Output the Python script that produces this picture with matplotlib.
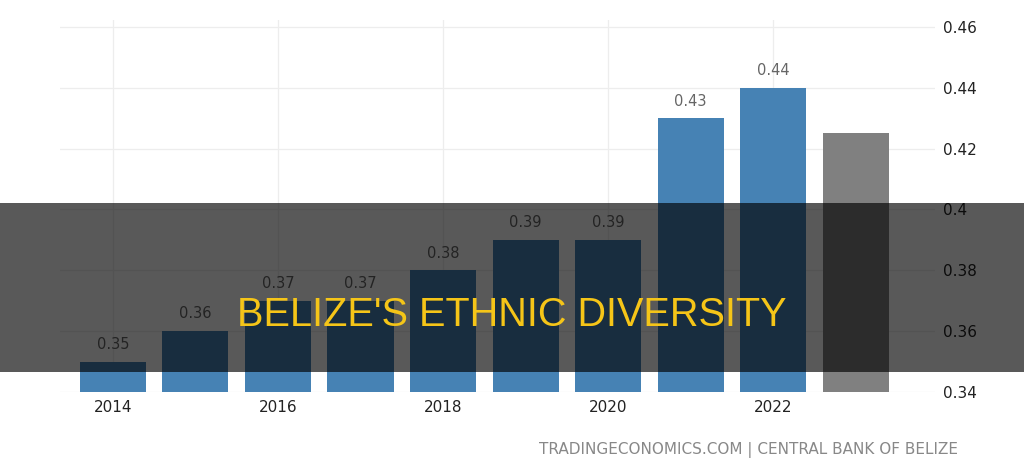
import matplotlib.pyplot as plt
from matplotlib.patches import Rectangle
from matplotlib.ticker import FuncFormatter

years = [2014, 2015, 2016, 2017, 2018, 2019, 2020, 2021, 2022]
values = [0.35, 0.36, 0.37, 0.37, 0.38, 0.39, 0.39, 0.43, 0.44]
forecast_year = [2023]
forecast_value = [0.425]
year_ticks = [2014, 2016, 2018, 2020, 2022]
y_ticks = [0.34, 0.36, 0.38, 0.40, 0.42, 0.44, 0.46]

fig = plt.figure(figsize=(10.24, 4.76), dpi=100)
ax = fig.add_axes([0.0586, 0.1765, 0.8545, 0.7815])

ax.bar(years, values, width=0.8, color='#4682b4', zorder=2)
ax.bar(forecast_year, forecast_value, width=0.8, color='#808080', zorder=2)

for x, v in zip(years, values):
    ax.text(x, v + 0.0032, f'{v:.2f}', ha='center', va='bottom',
            fontsize=10.5, color='#666666')

ax.set_xlim(2013.36, 2023.96)
ax.set_ylim(0.34, 0.4623)
ax.set_xticks(year_ticks)
ax.set_yticks(y_ticks)
ax.yaxis.tick_right()
ax.yaxis.set_major_formatter(FuncFormatter(lambda v, p: f'{v:g}'))
ax.tick_params(axis='both', length=0, labelsize=11, colors='#222222')
ax.tick_params(axis='y', pad=6)
ax.tick_params(axis='x', pad=6)
ax.grid(True, color='#ededed', linewidth=0.9, zorder=0)
ax.set_axisbelow(True)
for s in ax.spines.values():
    s.set_visible(False)

fig.text(0.936, 0.054, 'TRADINGECONOMICS.COM | CENTRAL BANK OF BELIZE',
         ha='right', va='center', fontsize=11, color='#888888')

# dark band with title
fig.add_artist(Rectangle((0, 1 - 372 / 476), 1, 169 / 476, transform=fig.transFigure,
                         facecolor='black', alpha=0.65, edgecolor='none', zorder=5))
fig.text(0.5, 1 - 315 / 476, "BELIZE'S ETHNIC DIVERSITY", ha='center', va='center',
         fontsize=28.5, color='#f5c518', family='Liberation Sans', zorder=6)

plt.savefig('out.png', dpi=100)
plt.close()
